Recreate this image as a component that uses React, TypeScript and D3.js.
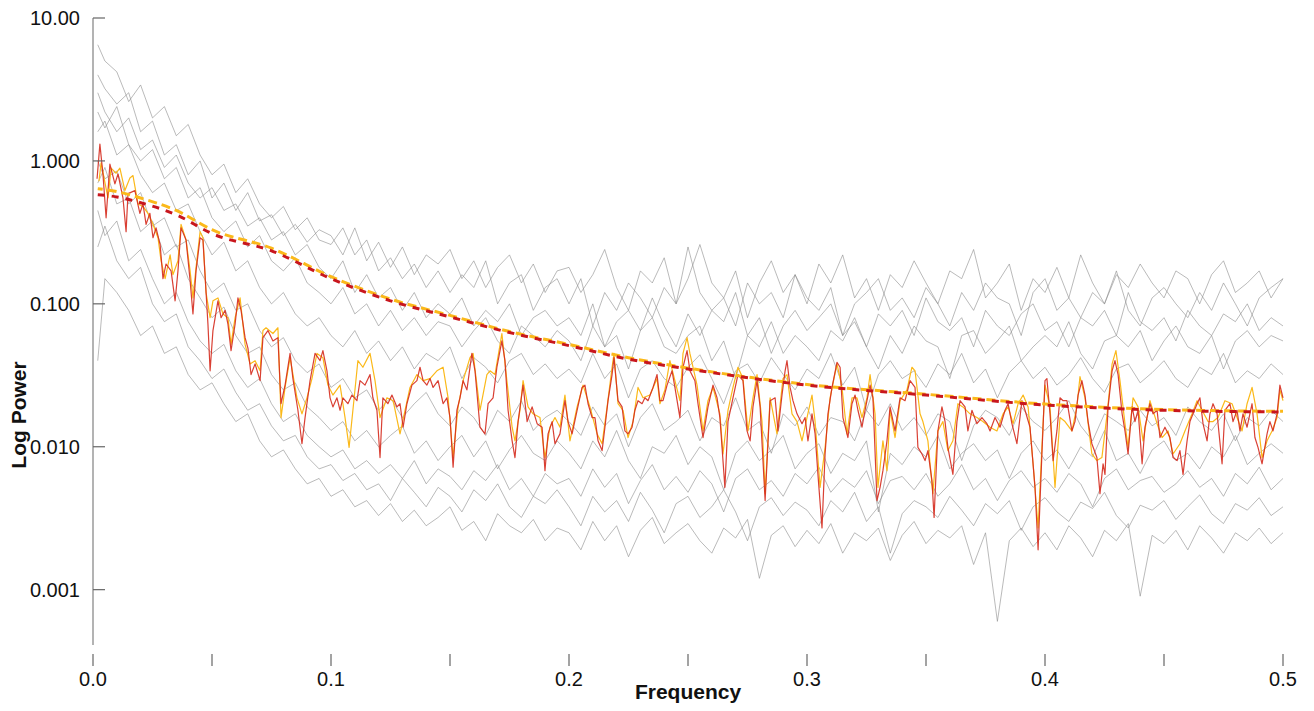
import React from 'react';
import * as d3 from 'd3';

// ---------- data ----------
const grayFreq = [0.002, 0.005, 0.01, 0.015, 0.02, 0.025, 0.03, 0.035, 0.04, 0.045, 0.05, 0.055, 0.06, 0.065, 0.07, 0.075, 0.08, 0.085, 0.09, 0.095, 0.1, 0.105, 0.11, 0.115, 0.12, 0.125, 0.13, 0.135, 0.14, 0.145, 0.15, 0.155, 0.16, 0.165, 0.17, 0.175, 0.18, 0.185, 0.19, 0.195, 0.2, 0.205, 0.21, 0.215, 0.22, 0.225, 0.23, 0.235, 0.24, 0.245, 0.25, 0.255, 0.26, 0.265, 0.27, 0.275, 0.28, 0.285, 0.29, 0.295, 0.3, 0.305, 0.31, 0.315, 0.32, 0.325, 0.33, 0.335, 0.34, 0.345, 0.35, 0.355, 0.36, 0.365, 0.37, 0.375, 0.38, 0.385, 0.39, 0.395, 0.4, 0.405, 0.41, 0.415, 0.42, 0.425, 0.43, 0.435, 0.44, 0.445, 0.45, 0.455, 0.46, 0.465, 0.47, 0.475, 0.48, 0.485, 0.49, 0.495, 0.5];

const gray1 = [4.0, 3.2, 2.5, 3.0, 1.6, 1.9, 1.1, 1.3, 0.8, 1.0, 0.55, 0.7, 0.45, 0.6, 0.38, 0.42, 0.3, 0.36, 0.27, 0.33,
  0.3, 0.22, 0.34, 0.2, 0.27, 0.18, 0.25, 0.16, 0.22, 0.19, 0.24, 0.15, 0.2, 0.13, 0.18, 0.22, 0.14, 0.19, 0.12, 0.17,
  0.18, 0.12, 0.16, 0.24, 0.13, 0.09, 0.17, 0.14, 0.21, 0.1, 0.15, 0.26, 0.14, 0.11, 0.17, 0.08, 0.14, 0.2, 0.12, 0.16, 0.1, 0.19, 0.14, 0.22, 0.11, 0.15, 0.09, 0.16, 0.13, 0.2, 0.14, 0.1, 0.17, 0.15, 0.24, 0.11, 0.14, 0.19, 0.09, 0.15, 0.12, 0.18, 0.11, 0.22, 0.14, 0.1, 0.16, 0.13, 0.19, 0.14, 0.11, 0.17, 0.15, 0.1, 0.16, 0.2, 0.12, 0.14, 0.17, 0.11, 0.15];
const gray2 = [6.5, 5.0, 4.2, 2.6, 3.4, 2.0, 2.4, 1.5, 1.8, 1.1, 0.8, 0.95, 0.6, 0.75, 0.5, 0.4, 0.48, 0.33, 0.4, 0.28,
  0.26, 0.34, 0.22, 0.28, 0.17, 0.21, 0.15, 0.19, 0.13, 0.17, 0.12, 0.16, 0.13, 0.2, 0.1, 0.14, 0.16, 0.09, 0.13, 0.15,
  0.1, 0.15, 0.07, 0.12, 0.09, 0.14, 0.11, 0.08, 0.13, 0.1, 0.25, 0.12, 0.09, 0.11, 0.07, 0.14, 0.1, 0.12, 0.08, 0.16, 0.11, 0.09, 0.13, 0.06, 0.1, 0.12, 0.15, 0.09, 0.11, 0.08, 0.13, 0.1, 0.07, 0.12, 0.09, 0.14, 0.11, 0.1, 0.06, 0.12, 0.15, 0.09, 0.11, 0.08, 0.12, 0.1, 0.17, 0.09, 0.07, 0.11, 0.13, 0.1, 0.08, 0.12, 0.09, 0.14, 0.1, 0.07, 0.11, 0.13, 0.15];
const gray3 = [3.0, 2.2, 1.6, 2.0, 1.2, 1.4, 0.9, 1.1, 0.7, 0.55, 0.65, 0.45, 0.5, 0.35, 0.4, 0.28, 0.32, 0.22, 0.26, 0.18, 0.15, 0.2, 0.12, 0.16, 0.11, 0.13, 0.09, 0.12, 0.08, 0.1, 0.085, 0.11, 0.07, 0.09, 0.075, 0.1, 0.06, 0.08, 0.09, 0.07,
  0.08, 0.06, 0.1, 0.05, 0.075, 0.09, 0.065, 0.11, 0.07, 0.05, 0.085, 0.06, 0.09, 0.075, 0.12, 0.06, 0.08, 0.045, 0.07, 0.09, 0.065, 0.08, 0.1, 0.06, 0.075, 0.05, 0.085, 0.07, 0.09, 0.06, 0.11, 0.075, 0.065, 0.08, 0.05, 0.09, 0.07, 0.06, 0.085, 0.1, 0.065, 0.075, 0.05, 0.08, 0.07, 0.09, 0.06, 0.12, 0.075, 0.065, 0.08, 0.055, 0.09, 0.07, 0.06, 0.085, 0.075, 0.1, 0.065, 0.08, 0.07];
const gray4 = [2.2, 1.7, 2.4, 1.3, 1.0, 1.2, 0.75, 0.9, 0.55, 0.65, 0.4, 0.32, 0.38, 0.25, 0.3, 0.2, 0.17, 0.21, 0.14, 0.12, 0.1, 0.13, 0.085, 0.1, 0.07, 0.09, 0.065, 0.08, 0.06, 0.075, 0.07, 0.05, 0.065, 0.08, 0.055, 0.045, 0.07, 0.06, 0.05, 0.065,
  0.055, 0.04, 0.07, 0.05, 0.06, 0.035, 0.065, 0.08, 0.05, 0.045, 0.06, 0.07, 0.04, 0.055, 0.03, 0.06, 0.05, 0.075, 0.045, 0.06, 0.05, 0.04, 0.065, 0.055, 0.08, 0.05, 0.035, 0.06, 0.045, 0.07, 0.055, 0.05, 0.03, 0.06, 0.065, 0.045, 0.055, 0.07, 0.04, 0.05, 0.06, 0.05, 0.075, 0.045, 0.035, 0.055, 0.06, 0.05, 0.065, 0.04, 0.055, 0.07, 0.05, 0.045, 0.06, 0.035, 0.055, 0.065, 0.05, 0.06, 0.055];
const gray5 = [1.6, 1.9, 1.1, 1.3, 0.8, 0.6, 0.7, 0.45, 0.5, 0.32, 0.22, 0.27, 0.17, 0.2, 0.13, 0.1, 0.12, 0.085, 0.07, 0.08, 0.06, 0.05, 0.065, 0.045, 0.055, 0.04, 0.05, 0.035, 0.045, 0.04, 0.05, 0.03, 0.042, 0.036, 0.028, 0.04, 0.045, 0.032, 0.038, 0.03,
  0.035, 0.028, 0.045, 0.03, 0.038, 0.022, 0.035, 0.04, 0.03, 0.026, 0.036, 0.044, 0.03, 0.02, 0.034, 0.038, 0.028, 0.042, 0.032, 0.025, 0.035, 0.03, 0.045, 0.027, 0.036, 0.018, 0.032, 0.04, 0.03, 0.034, 0.026, 0.038, 0.032, 0.045, 0.028, 0.035, 0.022, 0.033, 0.04, 0.03, 0.036, 0.027, 0.032, 0.042, 0.03, 0.024, 0.035, 0.038, 0.028, 0.033, 0.04, 0.03, 0.026, 0.036, 0.032, 0.045, 0.028, 0.034, 0.03, 0.038, 0.032];
const gray6 = [1.0, 0.75, 0.85, 0.5, 0.6, 0.35, 0.4, 0.25, 0.28, 0.17, 0.12, 0.14, 0.09, 0.1, 0.065, 0.05, 0.058, 0.04, 0.033, 0.038, 0.026, 0.03, 0.022, 0.025, 0.018, 0.022, 0.016, 0.02, 0.024, 0.017, 0.014, 0.019, 0.016, 0.012, 0.018, 0.015, 0.021, 0.013, 0.016, 0.018,
  0.015, 0.012, 0.019, 0.014, 0.017, 0.01, 0.016, 0.02, 0.013, 0.015, 0.018, 0.011, 0.016, 0.014, 0.022, 0.013, 0.015, 0.009, 0.017, 0.014, 0.019, 0.012, 0.016, 0.015, 0.011, 0.018, 0.014, 0.02, 0.013, 0.016, 0.012, 0.017, 0.015, 0.008, 0.014, 0.018, 0.016, 0.012, 0.019, 0.015, 0.013, 0.016, 0.021, 0.014, 0.011, 0.017, 0.015, 0.013, 0.018, 0.014, 0.016, 0.012, 0.019, 0.015, 0.013, 0.017, 0.011, 0.016, 0.014, 0.018, 0.015];
const gray7 = [0.7, 0.9, 0.5, 0.55, 0.32, 0.38, 0.22, 0.26, 0.15, 0.11, 0.08, 0.095, 0.06, 0.045, 0.05, 0.032, 0.025, 0.028, 0.019, 0.016, 0.013, 0.015, 0.011, 0.013, 0.01, 0.012, 0.014, 0.009, 0.011, 0.008, 0.01, 0.012, 0.0085, 0.011, 0.007, 0.0095, 0.012, 0.009, 0.008, 0.011,
  0.009, 0.007, 0.011, 0.0085, 0.013, 0.008, 0.006, 0.01, 0.009, 0.012, 0.0075, 0.01, 0.0085, 0.005, 0.009, 0.011, 0.008, 0.0095, 0.012, 0.007, 0.009, 0.0105, 0.0065, 0.009, 0.008, 0.011, 0.0035, 0.009, 0.0075, 0.01, 0.0085, 0.012, 0.007, 0.009, 0.0105, 0.008, 0.0095, 0.006, 0.009, 0.011, 0.008, 0.0095, 0.007, 0.01, 0.0085, 0.013, 0.008, 0.009, 0.0065, 0.0095, 0.011, 0.008, 0.009, 0.007, 0.01, 0.0085, 0.012, 0.0075, 0.009, 0.0105, 0.009];
const gray8 = [0.45, 0.3, 0.38, 0.2, 0.24, 0.15, 0.1, 0.12, 0.075, 0.055, 0.045, 0.052, 0.034, 0.026, 0.03, 0.02, 0.015, 0.017, 0.012, 0.01, 0.0085, 0.0095, 0.007, 0.008, 0.0065, 0.0075, 0.006, 0.008, 0.0055, 0.007, 0.0062, 0.005, 0.0068, 0.0058, 0.0075, 0.005, 0.006, 0.0045, 0.0065, 0.0055,
  0.006, 0.0045, 0.007, 0.0052, 0.0065, 0.004, 0.0058, 0.0075, 0.005, 0.0062, 0.0048, 0.0068, 0.0055, 0.0035, 0.006, 0.007, 0.005, 0.0058, 0.0045, 0.0065, 0.0055, 0.0072, 0.0048, 0.006, 0.0052, 0.0068, 0.004, 0.0058, 0.0062, 0.005, 0.0065, 0.0045, 0.0055, 0.0075, 0.005, 0.006, 0.0042, 0.0058, 0.0068, 0.0052, 0.006, 0.0048, 0.0065, 0.0055, 0.0038, 0.006, 0.007, 0.005, 0.0058, 0.0062, 0.0048, 0.0055, 0.0068, 0.0052, 0.006, 0.0045, 0.0065, 0.0055, 0.0072, 0.005, 0.006];
const gray9 = [0.25, 0.35, 0.2, 0.15, 0.18, 0.1, 0.075, 0.085, 0.05, 0.04, 0.03, 0.035, 0.024, 0.018, 0.02, 0.014, 0.011, 0.012, 0.0085, 0.007, 0.0075, 0.0058, 0.0065, 0.005, 0.0055, 0.0042, 0.006, 0.0048, 0.0038, 0.0052, 0.0045, 0.0035, 0.005, 0.0042, 0.0055, 0.0038, 0.0032, 0.0045, 0.004, 0.005,
  0.0038, 0.0028, 0.0045, 0.0035, 0.0042, 0.003, 0.0048, 0.0036, 0.0025, 0.004, 0.0045, 0.0032, 0.0038, 0.005, 0.0035, 0.0022, 0.0038, 0.0044, 0.0033, 0.0041, 0.0036, 0.0028, 0.0042, 0.0035, 0.0048, 0.003, 0.0038, 0.0018, 0.0034, 0.0042, 0.0038, 0.0032, 0.0045, 0.0036, 0.0028, 0.004, 0.0034, 0.0042, 0.0026, 0.0038, 0.0044, 0.0035, 0.003, 0.0041, 0.0037, 0.0048, 0.0033, 0.0027, 0.0039, 0.0036, 0.0042, 0.0031, 0.0038, 0.0046, 0.0034, 0.0029, 0.004, 0.0036, 0.0044, 0.0033, 0.0038];
const gray10 = [0.04, 0.15, 0.12, 0.09, 0.06, 0.07, 0.045, 0.05, 0.032, 0.025, 0.028, 0.02, 0.015, 0.017, 0.011, 0.0085, 0.0095, 0.007, 0.0055, 0.006, 0.0045, 0.005, 0.0038, 0.0042, 0.0033, 0.004, 0.003, 0.0036, 0.0028, 0.0032, 0.0038, 0.0026, 0.003, 0.0022, 0.0034, 0.0028, 0.0025, 0.0031, 0.0022, 0.0027,
  0.0025, 0.0019, 0.003, 0.0022, 0.0028, 0.0017, 0.0026, 0.0032, 0.0021, 0.0025, 0.0029, 0.0022, 0.0018, 0.0027, 0.0023, 0.0031, 0.0012, 0.0024, 0.0028, 0.002, 0.0026, 0.0021, 0.0029, 0.0018, 0.0025, 0.0022, 0.0027, 0.0016, 0.0024, 0.003, 0.0021, 0.0026, 0.0023, 0.0028, 0.0015, 0.0025, 0.0006, 0.0022, 0.0027, 0.002, 0.0025, 0.0019, 0.0028, 0.0023, 0.0017, 0.0026, 0.0022, 0.0029, 0.0009, 0.0024, 0.0021, 0.0026, 0.0019, 0.0028, 0.0023, 0.0018, 0.0025, 0.0022, 0.0027, 0.0021, 0.0025];

const grayLines = [gray1, gray2, gray3, gray4, gray5, gray6, gray7, gray8, gray9, gray10];

const redSeries: [number, number][] = [
  [0.0017, 0.75], [0.0029, 1.31], [0.0042, 0.80], [0.0055, 0.40], [0.0071, 0.95], [0.0092, 0.69], [0.0105, 0.81], [0.0126, 0.55], [0.0139, 0.32], [0.0147, 0.59],
  [0.0176, 0.62], [0.0197, 0.43], [0.0210, 0.50], [0.0223, 0.36], [0.0239, 0.43], [0.0252, 0.29], [0.0265, 0.34], [0.0282, 0.26], [0.0294, 0.15], [0.0307, 0.19],
  [0.0328, 0.17], [0.0345, 0.105], [0.0357, 0.17], [0.0370, 0.34], [0.0391, 0.28], [0.0408, 0.145], [0.0420, 0.085], [0.0433, 0.17], [0.0450, 0.29], [0.0462, 0.28],
  [0.0483, 0.072], [0.0492, 0.034], [0.0504, 0.065], [0.0525, 0.105], [0.0538, 0.08], [0.0555, 0.09], [0.0567, 0.072], [0.0580, 0.047], [0.0597, 0.072], [0.0609, 0.11],
  [0.0622, 0.09], [0.0639, 0.058], [0.0651, 0.049], [0.0664, 0.032], [0.0681, 0.038], [0.0702, 0.029], [0.0714, 0.058], [0.0735, 0.065], [0.0756, 0.055], [0.0777, 0.058],
  [0.0790, 0.020], [0.0807, 0.027], [0.0828, 0.045], [0.0840, 0.030], [0.0861, 0.018], [0.0878, 0.0105], [0.0891, 0.016], [0.0912, 0.029], [0.0933, 0.045], [0.0954, 0.040],
  [0.0966, 0.047], [0.0983, 0.034], [0.0996, 0.022], [0.1008, 0.019], [0.1025, 0.022], [0.1038, 0.018], [0.1050, 0.022], [0.1071, 0.020], [0.1088, 0.023], [0.1109, 0.021],
  [0.1122, 0.029], [0.1143, 0.027], [0.1164, 0.032], [0.1176, 0.022], [0.1193, 0.018], [0.1206, 0.0084], [0.1218, 0.022], [0.1239, 0.020], [0.1256, 0.023], [0.1277, 0.019],
  [0.1290, 0.020], [0.1303, 0.0137], [0.1319, 0.020], [0.1340, 0.027], [0.1361, 0.029], [0.1374, 0.036], [0.1387, 0.029], [0.1403, 0.027], [0.1416, 0.030], [0.1429, 0.026],
  [0.1450, 0.029], [0.1471, 0.020], [0.1487, 0.022], [0.1500, 0.016], [0.1513, 0.0072], [0.1529, 0.018], [0.1542, 0.022], [0.1555, 0.029], [0.1571, 0.025], [0.1592, 0.045],
  [0.1605, 0.034], [0.1626, 0.0137], [0.1647, 0.0123], [0.1660, 0.020], [0.1681, 0.022], [0.1697, 0.036], [0.1718, 0.055], [0.1731, 0.040], [0.1744, 0.018], [0.1761, 0.011],
  [0.1773, 0.0084], [0.1786, 0.015], [0.1807, 0.027], [0.1824, 0.015], [0.1845, 0.019], [0.1866, 0.0145], [0.1887, 0.0137], [0.1899, 0.0068], [0.1912, 0.0123], [0.1929, 0.015],
  [0.1941, 0.0105], [0.1962, 0.0123], [0.1983, 0.021], [0.1996, 0.015], [0.2013, 0.0123], [0.2034, 0.018], [0.2055, 0.026], [0.2067, 0.027], [0.2080, 0.020], [0.2097, 0.016],
  [0.2109, 0.016], [0.2122, 0.011], [0.2139, 0.0094], [0.2151, 0.0137], [0.2164, 0.021], [0.2181, 0.032], [0.2189, 0.042], [0.2206, 0.021], [0.2223, 0.019], [0.2235, 0.0129],
  [0.2248, 0.0123], [0.2265, 0.0137], [0.2277, 0.018], [0.2290, 0.021], [0.2307, 0.020], [0.2319, 0.022], [0.2332, 0.021], [0.2353, 0.026], [0.2370, 0.032], [0.2382, 0.021],
  [0.2395, 0.021], [0.2412, 0.027], [0.2433, 0.034], [0.2445, 0.026], [0.2466, 0.016], [0.2479, 0.036], [0.2496, 0.047], [0.2508, 0.034], [0.2529, 0.029], [0.2542, 0.020],
  [0.2563, 0.0116], [0.2584, 0.019], [0.2605, 0.027], [0.2622, 0.022], [0.2634, 0.016], [0.2647, 0.0080], [0.2655, 0.0052], [0.2668, 0.015], [0.2689, 0.022], [0.2710, 0.032],
  [0.2731, 0.029], [0.2748, 0.0129], [0.2761, 0.011], [0.2773, 0.019], [0.2790, 0.029], [0.2803, 0.019], [0.2815, 0.0080], [0.2824, 0.0042], [0.2845, 0.021], [0.2866, 0.022],
  [0.2878, 0.0129], [0.2895, 0.023], [0.2908, 0.034], [0.2916, 0.040], [0.2929, 0.026], [0.2941, 0.021], [0.2958, 0.017], [0.2979, 0.0145], [0.2992, 0.016], [0.3004, 0.011],
  [0.3021, 0.017], [0.3034, 0.0123], [0.3046, 0.0064], [0.3063, 0.0027], [0.3076, 0.0089], [0.3088, 0.017], [0.3105, 0.026], [0.3126, 0.039], [0.3139, 0.036], [0.3151, 0.016],
  [0.3172, 0.0116], [0.3189, 0.020], [0.3202, 0.023], [0.3214, 0.018], [0.3231, 0.0137], [0.3244, 0.018], [0.3265, 0.027], [0.3277, 0.022], [0.3294, 0.0042], [0.3307, 0.0052],
  [0.3319, 0.0068], [0.3336, 0.011], [0.3349, 0.019], [0.3370, 0.0129], [0.3391, 0.022], [0.3412, 0.021], [0.3433, 0.029], [0.3454, 0.026], [0.3466, 0.0099], [0.3483, 0.0089],
  [0.3496, 0.0080], [0.3508, 0.0094], [0.3525, 0.0058], [0.3534, 0.0032], [0.3550, 0.0129], [0.3567, 0.019], [0.3580, 0.015], [0.3592, 0.0099], [0.3613, 0.0064], [0.3630, 0.015],
  [0.3643, 0.021], [0.3664, 0.019], [0.3676, 0.0129], [0.3693, 0.018], [0.3714, 0.0145], [0.3735, 0.016], [0.3756, 0.0145], [0.3769, 0.0129], [0.3790, 0.016], [0.3811, 0.0137],
  [0.3832, 0.018], [0.3845, 0.020], [0.3861, 0.0145], [0.3882, 0.0105], [0.3903, 0.021], [0.3916, 0.018], [0.3937, 0.0137], [0.3958, 0.0052], [0.3971, 0.0019], [0.3987, 0.0089],
  [0.4000, 0.029], [0.4008, 0.030], [0.4021, 0.017], [0.4034, 0.0080], [0.4050, 0.0129], [0.4063, 0.022], [0.4076, 0.021], [0.4092, 0.021], [0.4113, 0.0129], [0.4126, 0.015],
  [0.4139, 0.023], [0.4155, 0.029], [0.4168, 0.023], [0.4181, 0.015], [0.4197, 0.0105], [0.4218, 0.0084], [0.4231, 0.0047], [0.4244, 0.0076], [0.4252, 0.0064], [0.4265, 0.019],
  [0.4282, 0.034], [0.4294, 0.040], [0.4307, 0.032], [0.4324, 0.017], [0.4336, 0.0129], [0.4349, 0.0089], [0.4366, 0.019], [0.4378, 0.015], [0.4391, 0.018], [0.4408, 0.0076],
  [0.4420, 0.0137], [0.4441, 0.020], [0.4454, 0.017], [0.4471, 0.018], [0.4483, 0.0116], [0.4504, 0.0137], [0.4525, 0.0116], [0.4538, 0.0084], [0.4555, 0.0080], [0.4567, 0.0094],
  [0.4580, 0.0064], [0.4597, 0.011], [0.4609, 0.015], [0.4622, 0.017], [0.4639, 0.020], [0.4651, 0.022], [0.4664, 0.0145], [0.4681, 0.011], [0.4693, 0.017], [0.4706, 0.020],
  [0.4723, 0.017], [0.4744, 0.0076], [0.4756, 0.018], [0.4777, 0.020], [0.4790, 0.015], [0.4807, 0.018], [0.4819, 0.0129], [0.4832, 0.017], [0.4849, 0.0137], [0.4870, 0.020],
  [0.4882, 0.0116], [0.4895, 0.0099], [0.4912, 0.0076], [0.4933, 0.0123], [0.4945, 0.015], [0.4958, 0.0129], [0.4975, 0.017], [0.4987, 0.027], [0.5, 0.022],
];

const yellowSeries: [number, number][] = [
  [0.0025, 0.72], [0.0034, 0.97], [0.0063, 0.55], [0.0076, 0.89], [0.0097, 0.82], [0.0113, 0.89], [0.0134, 0.62], [0.0155, 0.76], [0.0168, 0.79], [0.0189, 0.50],
  [0.0210, 0.48], [0.0231, 0.43], [0.0252, 0.36], [0.0273, 0.29], [0.0286, 0.20], [0.0303, 0.15], [0.0324, 0.22], [0.0336, 0.16], [0.0357, 0.20], [0.0370, 0.36],
  [0.0391, 0.28], [0.0408, 0.17], [0.0420, 0.11], [0.0433, 0.18], [0.0450, 0.32], [0.0462, 0.29], [0.0475, 0.12], [0.0492, 0.08], [0.0504, 0.105], [0.0525, 0.11],
  [0.0546, 0.085], [0.0567, 0.08], [0.0580, 0.052], [0.0597, 0.08], [0.0618, 0.11], [0.0639, 0.052], [0.0660, 0.038], [0.0681, 0.04], [0.0702, 0.034], [0.0714, 0.065],
  [0.0727, 0.068], [0.0756, 0.062], [0.0777, 0.068], [0.0790, 0.016], [0.0807, 0.026], [0.0828, 0.042], [0.0857, 0.022], [0.0878, 0.017], [0.0899, 0.022], [0.0920, 0.030],
  [0.0941, 0.045], [0.0966, 0.042], [0.0987, 0.027], [0.1008, 0.023], [0.1038, 0.027], [0.1059, 0.016], [0.1076, 0.0099], [0.1092, 0.018], [0.1113, 0.040], [0.1134, 0.036],
  [0.1164, 0.045], [0.1185, 0.029], [0.1206, 0.016], [0.1235, 0.022], [0.1261, 0.021], [0.1290, 0.0123], [0.1311, 0.018], [0.1332, 0.026], [0.1361, 0.032], [0.1387, 0.029],
  [0.1416, 0.030], [0.1445, 0.034], [0.1471, 0.036], [0.1492, 0.022], [0.1513, 0.0084], [0.1534, 0.019], [0.1555, 0.029], [0.1584, 0.042], [0.1597, 0.045], [0.1626, 0.018],
  [0.1655, 0.032], [0.1668, 0.034], [0.1689, 0.032], [0.1718, 0.062], [0.1739, 0.029], [0.1761, 0.0137], [0.1773, 0.011], [0.1794, 0.018], [0.1807, 0.029], [0.1828, 0.019],
  [0.1849, 0.017], [0.1878, 0.016], [0.1899, 0.0084], [0.1920, 0.0137], [0.1941, 0.016], [0.1962, 0.0137], [0.1983, 0.023], [0.2004, 0.011], [0.2034, 0.019], [0.2059, 0.027],
  [0.2088, 0.019], [0.2118, 0.0123], [0.2139, 0.0105], [0.2160, 0.019], [0.2181, 0.036], [0.2189, 0.045], [0.2206, 0.020], [0.2227, 0.018], [0.2248, 0.0116], [0.2269, 0.015],
  [0.2290, 0.026], [0.2311, 0.022], [0.2340, 0.023], [0.2370, 0.030], [0.2382, 0.020], [0.2403, 0.025], [0.2424, 0.040], [0.2445, 0.029], [0.2466, 0.021], [0.2479, 0.045],
  [0.2496, 0.058], [0.2508, 0.045], [0.2538, 0.027], [0.2563, 0.0129], [0.2584, 0.021], [0.2605, 0.026], [0.2634, 0.017], [0.2647, 0.0089], [0.2668, 0.018], [0.2689, 0.026],
  [0.2710, 0.036], [0.2731, 0.030], [0.2752, 0.0129], [0.2773, 0.022], [0.2790, 0.032], [0.2811, 0.015], [0.2824, 0.0047], [0.2845, 0.022], [0.2874, 0.0123], [0.2899, 0.030],
  [0.2916, 0.032], [0.2937, 0.017], [0.2958, 0.015], [0.2979, 0.011], [0.3000, 0.016], [0.3021, 0.023], [0.3034, 0.015], [0.3055, 0.0052], [0.3076, 0.0099], [0.3097, 0.022],
  [0.3126, 0.038], [0.3147, 0.026], [0.3168, 0.0123], [0.3189, 0.022], [0.3210, 0.022], [0.3231, 0.016], [0.3252, 0.022], [0.3265, 0.032], [0.3286, 0.017], [0.3298, 0.0052],
  [0.3319, 0.011], [0.3336, 0.0068], [0.3349, 0.018], [0.3370, 0.0116], [0.3391, 0.021], [0.3420, 0.025], [0.3441, 0.036], [0.3454, 0.034], [0.3475, 0.017], [0.3487, 0.015],
  [0.3508, 0.011], [0.3529, 0.0047], [0.3550, 0.0129], [0.3571, 0.015], [0.3592, 0.0094], [0.3613, 0.011], [0.3634, 0.020], [0.3655, 0.019], [0.3685, 0.017], [0.3714, 0.016],
  [0.3739, 0.015], [0.3769, 0.0137], [0.3798, 0.0129], [0.3824, 0.017], [0.3845, 0.019], [0.3866, 0.0145], [0.3887, 0.020], [0.3908, 0.023], [0.3929, 0.019], [0.3950, 0.0076],
  [0.3971, 0.0027], [0.3987, 0.0099], [0.4000, 0.027], [0.4021, 0.019], [0.4042, 0.0052], [0.4063, 0.016], [0.4084, 0.015], [0.4113, 0.0129], [0.4134, 0.019], [0.4147, 0.031],
  [0.4168, 0.022], [0.4197, 0.0089], [0.4218, 0.0080], [0.4239, 0.0084], [0.4261, 0.017], [0.4282, 0.038], [0.4298, 0.047], [0.4315, 0.029], [0.4336, 0.0145], [0.4349, 0.0099],
  [0.4370, 0.022], [0.4391, 0.019], [0.4412, 0.011], [0.4441, 0.021], [0.4471, 0.0145], [0.4492, 0.0116], [0.4517, 0.0129], [0.4538, 0.0089], [0.4567, 0.0105], [0.4588, 0.0129],
  [0.4618, 0.017], [0.4639, 0.021], [0.4660, 0.018], [0.4685, 0.015], [0.4706, 0.015], [0.4727, 0.016], [0.4756, 0.021], [0.4786, 0.020], [0.4807, 0.016], [0.4828, 0.0129],
  [0.4849, 0.020], [0.4870, 0.026], [0.4891, 0.017], [0.4912, 0.0084], [0.4933, 0.011], [0.4954, 0.0129], [0.4975, 0.016], [0.4987, 0.025], [0.5, 0.021],
];

const meanFreq = [0.002, 0.01, 0.02, 0.035, 0.05, 0.075, 0.1, 0.125, 0.15, 0.175, 0.2, 0.225, 0.25, 0.3, 0.35, 0.4, 0.45, 0.5];
const meanRed = [0.58, 0.56, 0.51, 0.42, 0.31, 0.235, 0.15, 0.105, 0.081, 0.063, 0.051, 0.041, 0.035, 0.027, 0.023, 0.0196, 0.018, 0.0175];
const meanYellow = [0.64, 0.61, 0.55, 0.45, 0.33, 0.245, 0.155, 0.108, 0.083, 0.064, 0.052, 0.042, 0.0355, 0.0273, 0.0233, 0.0199, 0.0182, 0.0177];

const xTicks = [0, 0.05, 0.1, 0.15, 0.2, 0.25, 0.3, 0.35, 0.4, 0.45, 0.5];
const xTickLabels = ['0.0', '', '0.1', '', '0.2', '', '0.3', '', '0.4', '', '0.5'];
const yTicks = [10, 1, 0.1, 0.01, 0.001];
const yTickLabels = ['10.00', '1.000', '0.100', '0.010', '0.001'];

const xDomain = [0, 0.5];
const yDomain = [0.00041, 10];

// ---------- layout ----------
const W = 1314;
const H = 711;
const plotLeft = 93;
const plotRight = 1283;
const plotTop = 18;
const plotBottom = 645;

const RED = '#d52b1e';
const YELLOW = '#fbb91a';
const GRAY = '#8a8a8a';
const AXIS = '#9a9a9a';
const TICK = '#666666';
const FONT = '"Liberation Sans", Arial, Helvetica, sans-serif';

export default function App() {
  const x = d3.scaleLinear().domain(xDomain).range([plotLeft, plotRight]);
  const y = d3.scaleLog().domain(yDomain).range([plotBottom, plotTop]);

  const pairLine = d3
    .line<[number, number]>()
    .x((d) => x(d[0]))
    .y((d) => y(d[1]));

  const grayPaths = grayLines.map((vals) => {
    const pts: [number, number][] = [];
    const n = Math.min(vals.length, grayFreq.length);
    for (let i = 0; i < n; i++) pts.push([grayFreq[i], vals[i]]);
    return pairLine(pts) || '';
  });

  const smoothLine = d3
    .line<[number, number]>()
    .x((d) => x(d[0]))
    .y((d) => y(d[1]))
    .curve(d3.curveMonotoneX);

  const meanRedPts: [number, number][] = meanFreq.map((f, i) => [f, meanRed[i]]);
  const meanYellowPts: [number, number][] = meanFreq.map((f, i) => [f, meanYellow[i]]);

  const xTickTop = 654;
  const xTickBottom = 666;

  return (
    <svg
      width={W}
      height={H}
      viewBox={`0 0 ${W} ${H}`}
      style={{ position: 'absolute', left: 0, top: 0, display: 'block', background: '#ffffff' }}
    >
      <rect x={0} y={0} width={W} height={H} fill="#ffffff" />

      {/* gray individual spectra */}
      <g fill="none" stroke={GRAY} strokeWidth={0.85} strokeOpacity={0.7} strokeLinejoin="round">
        {grayPaths.map((d, i) => (
          <path key={i} d={d} />
        ))}
      </g>

      {/* solid highlighted spectra */}
      <path d={pairLine(yellowSeries) || ''} fill="none" stroke={YELLOW} strokeWidth={1.2} strokeLinejoin="round" />
      <path d={pairLine(redSeries) || ''} fill="none" stroke={RED} strokeWidth={1.2} strokeOpacity={0.9} strokeLinejoin="round" />

      {/* dashed mean curves */}
      <path
        d={smoothLine(meanYellowPts) || ''}
        fill="none"
        stroke={YELLOW}
        strokeWidth={3}
        strokeDasharray="9 5"
        strokeDashoffset={4}
      />
      <path
        d={smoothLine(meanRedPts) || ''}
        fill="none"
        stroke="#c8161d"
        strokeWidth={3}
        strokeDasharray="7 7"
      />

      {/* y axis */}
      <line x1={plotLeft} x2={plotLeft} y1={y(yDomain[1])} y2={y(yDomain[0])} stroke={AXIS} strokeWidth={1.5} />
      {yTicks.map((t, i) => (
        <g key={i}>
          <line x1={plotLeft} x2={plotLeft + 12} y1={y(t)} y2={y(t)} stroke={TICK} strokeWidth={1.2} />
          <text
            x={plotLeft - 13}
            y={y(t)}
            dy="0.35em"
            textAnchor="end"
            fontFamily={FONT}
            fontSize={20}
            fill="#111"
          >
            {yTickLabels[i]}
          </text>
        </g>
      ))}

      {/* x axis ticks */}
      {xTicks.map((t, i) => (
        <g key={i}>
          <line x1={x(t)} x2={x(t)} y1={xTickTop} y2={xTickBottom} stroke={TICK} strokeWidth={1.2} />
          {xTickLabels[i] && (
            <text x={x(t)} y={686} textAnchor="middle" fontFamily={FONT} fontSize={20} fill="#111">
              {xTickLabels[i]}
            </text>
          )}
        </g>
      ))}

      {/* axis titles */}
      <text
        x={(plotLeft + plotRight) / 2}
        y={699}
        textAnchor="middle"
        fontFamily={FONT}
        fontSize={21}
        fontWeight="bold"
        fill="#111"
      >
        Frequency
      </text>
      <text
        transform="translate(26, 415) rotate(-90)"
        textAnchor="middle"
        fontFamily={FONT}
        fontSize={21}
        fontWeight="bold"
        fill="#111"
      >
        Log Power
      </text>
    </svg>
  );
}
